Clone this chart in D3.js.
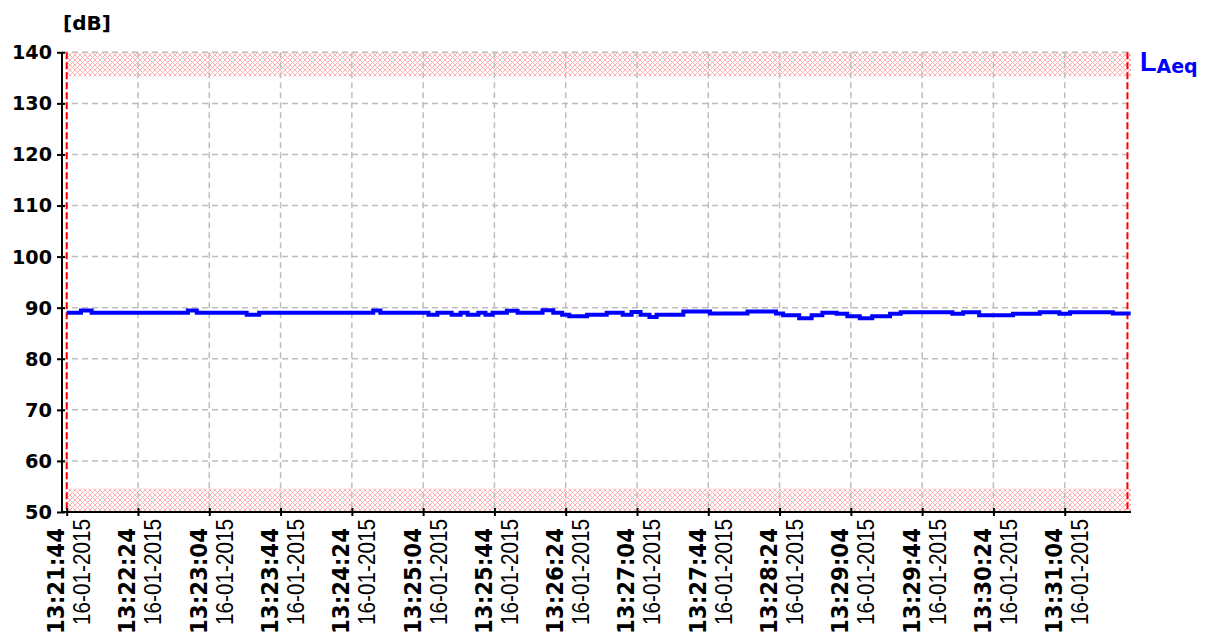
<!DOCTYPE html>
<html>
<head>
<meta charset="utf-8">
<script src="https://cdn.jsdelivr.net/npm/d3@7"></script>
<style>
  body { margin: 0; background: #fff; }
</style>
</head>
<body>
<script>
// LAeq level log, 16-01-2015

var logDate = "16-01-2015";
var startClock = "13:21:44";

// seconds after start where the level changes, and the level from there on
var sampleSec = [0, 8, 14, 68, 73, 101, 108, 172, 176, 203, 208, 216, 221, 225, 231, 235, 239, 247,
                 253, 267, 273, 278, 282, 292, 303, 312, 317, 322, 327, 331, 346, 361, 382, 398, 402,
                 411, 418, 424, 432, 438, 445, 452, 462, 468, 497, 503, 512, 531, 546, 557, 563, 587, 597];
var laeq = [89.0, 89.45, 89.0, 89.45, 89.0, 88.6, 89.0, 89.45, 89.0, 88.6, 89.0, 88.6, 89.0, 88.6, 89.0, 88.6, 89.0, 89.4,
            89.0, 89.5, 89.0, 88.6, 88.3, 88.6, 89.0, 88.6, 89.15, 88.6, 88.2, 88.6, 89.25, 88.85, 89.25, 88.85, 88.5,
            87.95, 88.5, 89.0, 88.8, 88.3, 87.95, 88.3, 88.8, 89.1, 88.8, 89.1, 88.5, 88.8, 89.1, 88.8, 89.1, 88.85, 88.85];

var yTicks = [50, 60, 70, 80, 90, 100, 110, 120, 130, 140];
var xTickLabels = ["13:21:44", "13:22:24", "13:23:04", "13:23:44", "13:24:24", "13:25:04", "13:25:44", "13:26:24",
                   "13:27:04", "13:27:44", "13:28:24", "13:29:04", "13:29:44", "13:30:24", "13:31:04"];

// limit bands [low, high] in dB
var lowBand = [50, 54.6];
var highBand = [135.3, 140];
// marker cursors, seconds after start
var markers = [0, 595.2];

var W = 1206, H = 635;
var pLeft = 62, pRight = 1131, pTop = 52.3, pBottom = 512;

var parseFull = d3.timeParse("%d-%m-%Y %H:%M:%S");
var t0 = parseFull(logDate + " " + startClock);
function sec(s) { return new Date(t0.getTime() + s * 1000); }

var svg = d3.select("body").append("svg")
    .attr("width", W)
    .attr("height", H)
    .style("font-family", "'DejaVu Sans', sans-serif");

var x = d3.scaleTime().domain([sec(-2.64), sec(597.2)]).range([pLeft, pRight]);
var y = d3.scaleLinear().domain([50, 140]).range([pBottom, pTop]);

// hatch pattern for the limit bands
var defs = svg.append("defs");
var pat = defs.append("pattern")
    .attr("id", "hatch")
    .attr("patternUnits", "userSpaceOnUse")
    .attr("width", 5).attr("height", 5);
pat.append("rect").attr("width", 5).attr("height", 5).attr("fill", "#fff");
pat.append("path")
    .attr("d", "M0,0L5,5M5,0L0,5M-1,4L1,6M4,-1L6,1")
    .attr("stroke", "#ffb0b0")
    .attr("stroke-width", 1);

[lowBand, highBand].forEach(function(b) {
  svg.append("rect")
      .attr("x", x(sec(markers[0])))
      .attr("width", pRight - x(sec(markers[0])))
      .attr("y", y(b[1]))
      .attr("height", y(b[0]) - y(b[1]))
      .attr("fill", "url(#hatch)");
});

// grid
var xTickDates = xTickLabels.map(function(l) { return parseFull(logDate + " " + l); });

svg.append("g").selectAll("line")
    .data(yTicks.slice(1))
    .enter().append("line")
    .attr("x1", pLeft).attr("x2", pRight)
    .attr("y1", function(d) { return y(d); })
    .attr("y2", function(d) { return y(d); })
    .attr("stroke", "#bdbdbd")
    .attr("stroke-width", 1.5)
    .attr("stroke-dasharray", "6,4");

svg.append("g").selectAll("line")
    .data(xTickDates)
    .enter().append("line")
    .attr("x1", function(d) { return x(d); })
    .attr("x2", function(d) { return x(d); })
    .attr("y1", pTop).attr("y2", pBottom)
    .attr("stroke", "#bdbdbd")
    .attr("stroke-width", 1.5)
    .attr("stroke-dasharray", "6,4");

// red cursors
svg.append("g").selectAll("line")
    .data(markers)
    .enter().append("line")
    .attr("x1", function(d) { return x(sec(d)); })
    .attr("x2", function(d) { return x(sec(d)); })
    .attr("y1", pTop).attr("y2", pBottom)
    .attr("stroke", "#ff0000")
    .attr("stroke-width", 2)
    .attr("stroke-dasharray", "7,3");

// the level line
var line = d3.line()
    .curve(d3.curveStepAfter)
    .x(function(d) { return x(sec(d[0])); })
    .y(function(d) { return y(d[1]); });

svg.append("path")
    .datum(d3.zip(sampleSec, laeq))
    .attr("fill", "none")
    .attr("stroke", "#0000ff")
    .attr("stroke-width", 4)
    .attr("d", line);

// axes
var yAxis = svg.append("g")
    .attr("transform", "translate(" + pLeft + ",0)")
    .call(d3.axisLeft(y).tickValues(yTicks).tickSize(5).tickPadding(5));
yAxis.select(".domain").attr("stroke", "#000").attr("stroke-width", 2).attr("d", "M0," + pTop + "V" + pBottom);
yAxis.selectAll(".tick line").attr("stroke", "#000").attr("stroke-width", 2).attr("x2", -5).attr("x1", 3);
yAxis.selectAll(".tick text")
    .attr("fill", "#000")
    .attr("textLength", 40)
    .attr("lengthAdjust", "spacingAndGlyphs")
    .style("font-size", "20px")
    .style("font-weight", "bold")
    .style("font-family", "'DejaVu Sans', sans-serif");
yAxis.selectAll(".tick text").filter(function(d) { return d < 100; }).attr("textLength", 27);

var xAxis = svg.append("g")
    .attr("transform", "translate(0," + pBottom + ")")
    .call(d3.axisBottom(x).tickValues(xTickDates).tickSize(4).tickFormat(""));
xAxis.select(".domain").attr("stroke", "#000").attr("stroke-width", 2).attr("d", "M" + pLeft + ",0H" + pRight);
xAxis.selectAll(".tick line").attr("stroke", "#000").attr("stroke-width", 2).attr("y1", -4).attr("y2", 4);

var labels = svg.append("g").selectAll("g")
    .data(xTickLabels)
    .enter().append("g");

labels.append("text")
    .attr("transform", function(d, i) { return "translate(" + (x(xTickDates[i]) - 2.5) + ",528) rotate(-90)"; })
    .attr("text-anchor", "end")
    .attr("textLength", 106)
    .attr("lengthAdjust", "spacingAndGlyphs")
    .style("font-size", "23px")
    .style("font-weight", "bold")
    .text(function(d) { return d; });

labels.append("text")
    .attr("transform", function(d, i) { return "translate(" + (x(xTickDates[i]) + 23.5) + ",519) rotate(-90)"; })
    .attr("text-anchor", "end")
    .attr("textLength", 106)
    .attr("lengthAdjust", "spacingAndGlyphs")
    .style("font-family", "'Liberation Sans', Arial, sans-serif")
    .style("font-size", "23px")
    .text(logDate);

// unit and legend
svg.append("text")
    .attr("x", 63)
    .attr("y", 30)
    .style("font-size", "20px")
    .style("font-weight", "bold")
    .text("[dB]");

var leg = svg.append("text")
    .attr("x", 1140)
    .attr("y", 71)
    .attr("fill", "#0000ff")
    .style("font-weight", "bold");
leg.append("tspan").style("font-size", "27px").style("font-family", "'Liberation Sans', Arial, sans-serif").text("L");
leg.append("tspan").attr("dy", 2).style("font-size", "19px").text("Aeq");
</script>
</body>
</html>
